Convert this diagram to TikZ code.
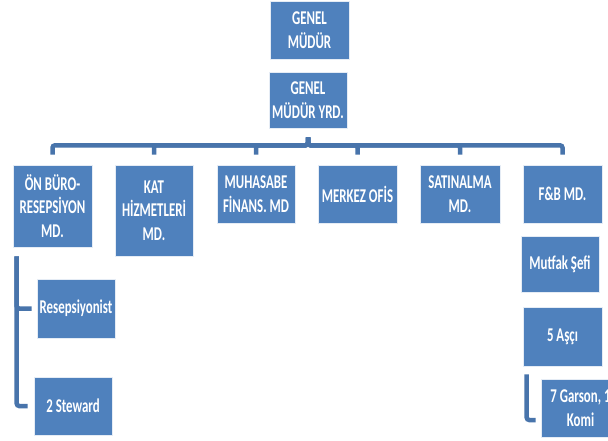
\documentclass[tikz,border=0pt]{standalone}
\usepackage{fontspec}
\newfontfamily\boxfont{Carlito}[FakeStretch=0.66]
\definecolor{boxblue}{HTML}{4F81BD}
\definecolor{connblue}{HTML}{4874AB}
\tikzset{
  orgbox/.style={fill=boxblue, draw=white!85!boxblue, line width=0.6pt, text=white, inner sep=0pt, align=center,
    font=\boxfont\bfseries\fontsize{19.5}{23.5}\selectfont},
  conn/.style={draw=connblue, line width=4.5pt, rounded corners=2.5pt}
}
\begin{document}
\begin{tikzpicture}[x=1pt,y=-1pt]
\fill[white] (0,0) rectangle (608,441);
\useasboundingbox (0,0) rectangle (608,441);
\node[orgbox, minimum width=79pt, minimum height=58pt] (gm) at (309.5,30) {GENEL\\MÜDÜR};
\node[orgbox, minimum width=78pt, minimum height=56pt] (yrd) at (308,100) {GENEL\\MÜDÜR YRD.};
\node[orgbox, minimum width=79pt, minimum height=82pt] (onb) at (52.5,206) {ÖN BÜRO-\\RESEPSİYON\\MD.};
\node[orgbox, minimum width=78pt, minimum height=91pt] (kat) at (154,210.5) {KAT\\HİZMETLERİ\\MD.};
\node[orgbox, minimum width=78pt, minimum height=58pt] (muh) at (256,194) {MUHASABE\\FİNANS. MD};
\node[orgbox, minimum width=79pt, minimum height=58pt] (mer) at (357.5,194) {MERKEZ OFİS};
\node[orgbox, minimum width=80pt, minimum height=58pt] (sat) at (460,194) {SATINALMA\\MD.};
\node[orgbox, minimum width=79pt, minimum height=58pt] (fb) at (562.5,194) {F\&B MD.};
\node[orgbox, minimum width=78pt, minimum height=56pt] (mut) at (560,264) {Mutfak Şefi};
\node[orgbox, minimum width=79pt, minimum height=59pt] (asc) at (562.5,336.5) {5 Aşçı};
\node[orgbox, minimum width=78pt, minimum height=59pt] (res) at (76,308.5) {Resepsiyonist};
\node[orgbox, minimum width=78pt, minimum height=58pt] (ste) at (73,406) {2 Steward};
\node[orgbox, minimum width=79pt, minimum height=58pt] (gar) at (580.5,408) {7 Garson, 1\\Komi};
% top bus
\foreach \b in {onb,kat,muh,mer,sat,fb}{
  \draw[conn] ([yshift=-9pt]yrd.south) -- ++(0,8) -| ([yshift=10pt]\b.north);
}
% left branch
\draw[conn] ([xshift=4pt,yshift=-9pt]onb.south west) |- ([xshift=-5pt]res.west);
\draw[conn] ([xshift=4pt,yshift=-9pt]onb.south west) |- ([xshift=-6pt]ste.west);
% right branch
\draw[conn] ([xshift=4pt,yshift=-8pt]asc.south west) |- ([xshift=-5pt,yshift=-12pt]gar.west);
\end{tikzpicture}
\end{document}
